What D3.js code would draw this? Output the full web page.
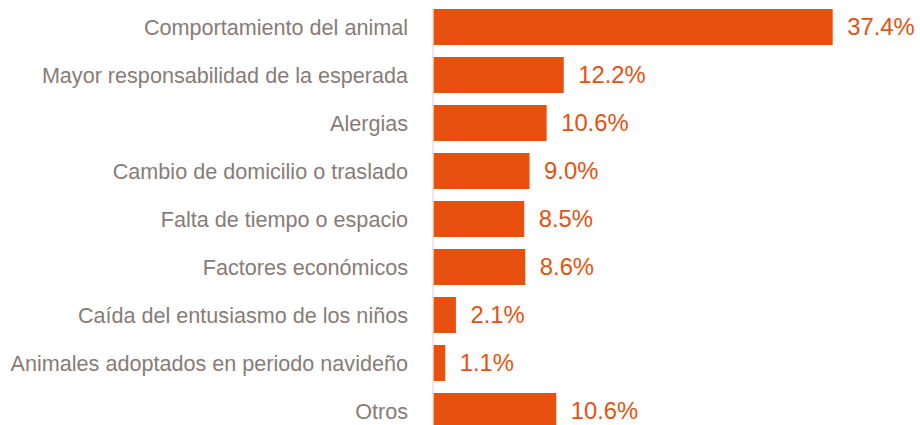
<!DOCTYPE html>
<html>
<head>
<meta charset="utf-8">
<script src="https://cdn.jsdelivr.net/npm/d3@7"></script>
<style>
  body { margin: 0; background: #fff; }
  text { font-family: "Liberation Sans", Arial, sans-serif; }
</style>
</head>
<body>
<svg id="chart" width="920" height="425"></svg>
<script>
// Motivos de abandono (porcentaje)
const categories = [
  "Comportamiento del animal",
  "Mayor responsabilidad de la esperada",
  "Alergias",
  "Cambio de domicilio o traslado",
  "Falta de tiempo o espacio",
  "Factores económicos",
  "Caída del entusiasmo de los niños",
  "Animales adoptados en periodo navideño",
  "Otros"
];
// longitud de barra (la de "Otros" es más larga que su rótulo)
const values = [37.4, 12.2, 10.6, 9.0, 8.5, 8.6, 2.1, 1.1, 11.5];
const valueLabels = ["37.4%", "12.2%", "10.6%", "9.0%", "8.5%", "8.6%", "2.1%", "1.1%", "10.6%"];

const svg = d3.select("#chart");
const barColor = "#e8500f";

const x = d3.scaleLinear().domain([0, 37.4]).range([433.5, 832.7]);
const y = d3.scaleBand()
  .domain(categories)
  .range([3, 3 + 48 * categories.length])
  .paddingInner(0.25)
  .paddingOuter(0.125);

// Barras
svg.append("g").selectAll("rect")
  .data(categories)
  .join("rect")
  .attr("x", x(0))
  .attr("y", d => y(d))
  .attr("width", (d, i) => x(values[i]) - x(0))
  .attr("height", y.bandwidth())
  .attr("fill", barColor);

// Línea del eje
svg.append("line")
  .attr("x1", 433).attr("x2", 433)
  .attr("y1", y(categories[0])).attr("y2", 425)
  .attr("stroke", "#f1c9b6")
  .attr("stroke-width", 1);

// Etiquetas de categoría
svg.append("g").selectAll("text")
  .data(categories)
  .join("text")
  .attr("x", 408)
  .attr("y", d => y(d) + y.bandwidth() / 2)
  .attr("text-anchor", "end")
  .attr("dominant-baseline", "central")
  .style("font-size", "21.6px")
  .style("fill", "#877c77")
  .text(d => d);

// Valores
svg.append("g").selectAll("text")
  .data(categories)
  .join("text")
  .attr("x", (d, i) => x(values[i]) + 14.5)
  .attr("y", d => y(d) + y.bandwidth() / 2 - 1)
  .attr("dominant-baseline", "central")
  .style("font-size", "23.8px")
  .style("fill", barColor)
  .text((d, i) => valueLabels[i]);
</script>
</body>
</html>
